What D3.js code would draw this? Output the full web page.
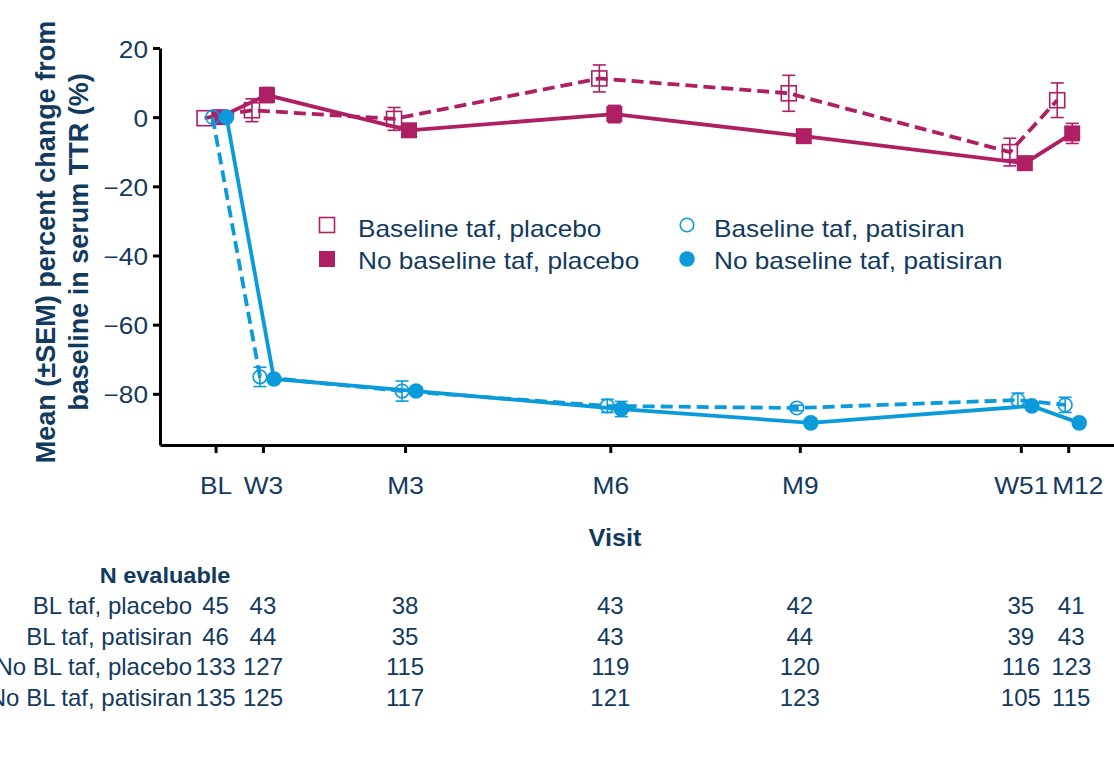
<!DOCTYPE html>
<html>
<head>
<meta charset="utf-8">
<script src="https://cdn.jsdelivr.net/npm/d3@7"></script>
<style>
  html, body { margin: 0; padding: 0; background: #fff; }
  svg { display: block; font-family: "Liberation Sans", Arial, Helvetica, sans-serif; }
</style>
</head>
<body>
<svg id="chart" width="1114" height="783"></svg>
<script>
// Visits and their study week (used for horizontal placement)
const visits = ["BL", "W3", "M3", "M6", "M9", "W51", "M12"];
const visitWeeks = [0, 3, 12, 25, 37, 51, 54];

const seriesNames = [
  "Baseline taf, placebo",
  "No baseline taf, placebo",
  "Baseline taf, patisiran",
  "No baseline taf, patisiran"
];

// Mean percent change from baseline in serum TTR, and SEM
const tafPlaceboMean     = [-0.3, 2.0, -0.5, 11.2, 6.9, -10.1, 4.9];
const tafPlaceboSem      = [0.0, 3.3, 3.3, 3.9, 5.2, 4.0, 5.0];
const noTafPlaceboMean   = [0.0, 6.4, -3.8, 0.9, -5.5, -13.3, -4.7];
const noTafPlaceboSem    = [0.0, 2.2, 1.0, 2.5, 1.2, 1.0, 2.9];
const tafPatisiranMean   = [0.0, -75.1, -79.2, -83.5, -84.1, -81.8, -83.2];
const tafPatisiranSem    = [0.0, 2.8, 2.9, 1.9, 0.8, 2.0, 2.2];
const noTafPatisiranMean = [0.0, -75.7, -79.2, -84.4, -88.4, -83.5, -88.4];
const noTafPatisiranSem  = [0.0, 0.8, 1.0, 2.2, 0.6, 0.6, 0.6];

const yTicks = [20, 0, -20, -40, -60, -80];
const yTickLabels = ["20", "0", "\u221220", "\u221240", "\u221260", "\u221280"];

// Number of evaluable patients per visit
const nRowLabels = ["BL taf, placebo", "BL taf, patisiran", "No BL taf, placebo", "No BL taf, patisiran"];
const nTafPlacebo     = [45, 43, 38, 43, 42, 35, 41];
const nTafPatisiran   = [46, 44, 35, 43, 44, 39, 43];
const nNoTafPlacebo   = [133, 127, 115, 119, 120, 116, 123];
const nNoTafPatisiran = [135, 125, 117, 121, 123, 105, 115];

// ---- styles ----
const MAGENTA = "#ae1f64";
const BLUE = "#0b9bdb";
const INK = "#123a5e";

const svg = d3.select("#chart");

const x = d3.scaleLinear().domain([-3.52, 56.9]).range([160, 1114]);
const y = d3.scaleLinear().domain([-94.8, 20]).range([445, 48]);

// Horizontally widened text helper
function label(g, px, py, str, o = {}) {
  const t = g.append("text")
    .attr("transform", `translate(${px},${py})` + (o.rotate ? ` rotate(${o.rotate})` : "") + ` scale(${o.sx || 1},1)`)
    .attr("text-anchor", o.anchor || "start")
    .attr("font-size", (o.size || 23) + "px")
    .attr("font-weight", o.bold ? "bold" : "normal")
    .attr("fill", INK)
    .text(str);
  return t;
}

// ---- axes ----
const yAxis = d3.axisLeft(y)
  .tickValues(yTicks)
  .tickFormat((d, i) => yTickLabels[i])
  .tickSize(7)
  .tickSizeOuter(0);

const gy = svg.append("g").attr("transform", "translate(160,0)").call(yAxis);
gy.select(".domain").attr("stroke", "#000").attr("stroke-width", 3);
gy.selectAll(".tick line").attr("stroke", "#000").attr("stroke-width", 3);
gy.selectAll(".tick text")
  .attr("x", null).attr("dy", null)
  .attr("transform", "translate(-12,9) scale(1.14,1)")
  .attr("font-size", "23px")
  .attr("font-family", "Liberation Sans, Arial, sans-serif")
  .attr("fill", INK);

const xAxis = d3.axisBottom(x)
  .tickValues(visitWeeks)
  .tickFormat((d, i) => visits[i])
  .tickSize(8)
  .tickSizeOuter(0);

const gx = svg.append("g").attr("transform", "translate(0,445)").call(xAxis);
gx.select(".domain").attr("stroke", "#000").attr("stroke-width", 3);
gx.selectAll(".tick line").attr("stroke", "#000").attr("stroke-width", 3);
// the last two visit labels sit close together; nudge the final one right
const xLabelShift = visits.map((v, i) => (i === visits.length - 1 ? 9 : 0));
gx.selectAll(".tick text")
  .attr("y", null).attr("dy", null)
  .attr("transform", (d, i) => `translate(${xLabelShift[i]},49) scale(1.12,1)`)
  .attr("font-size", "23.5px")
  .attr("font-family", "Liberation Sans, Arial, sans-serif")
  .attr("fill", INK);

// axis titles
label(svg, 615, 546, "Visit", { anchor: "middle", bold: true, size: 23, sx: 1.1 });
label(svg, 55, 242, "Mean (\u00b1SEM) percent change from", { anchor: "middle", bold: true, size: 27, rotate: -90 });
label(svg, 88, 242, "baseline in serum TTR (%)", { anchor: "middle", bold: true, size: 27, rotate: -90 });

// ---- series ----
const series = [
  { name: seriesNames[0], mean: tafPlaceboMean, sem: tafPlaceboSem, color: MAGENTA, dashed: true, shape: "square", filled: false, dodge: -11 },
  { name: seriesNames[1], mean: noTafPlaceboMean, sem: noTafPlaceboSem, color: MAGENTA, dashed: false, shape: "square", filled: true, dodge: 4 },
  { name: seriesNames[2], mean: tafPatisiranMean, sem: tafPatisiranSem, color: BLUE, dashed: true, shape: "circle", filled: false, dodge: -3 },
  { name: seriesNames[3], mean: noTafPatisiranMean, sem: noTafPatisiranSem, color: BLUE, dashed: false, shape: "circle", filled: true, dodge: 11 }
];

function drawMarker(g, s, cx, cy) {
  if (s.shape === "square") {
    const size = s.filled ? 16 : 15;
    g.append("rect")
      .attr("x", cx - size / 2).attr("y", cy - size / 2)
      .attr("width", size).attr("height", size)
      .attr("fill", s.filled ? s.color : "none")
      .attr("stroke", s.filled ? "none" : s.color)
      .attr("stroke-width", 1.6);
  } else {
    g.append("circle")
      .attr("cx", cx).attr("cy", cy)
      .attr("r", s.filled ? 7.8 : 6.8)
      .attr("fill", s.filled ? s.color : "none")
      .attr("stroke", s.filled ? "none" : s.color)
      .attr("stroke-width", 1.6);
  }
}

const plot = svg.append("g");
series.forEach(s => {
  const g = plot.append("g");
  const px = i => x(visitWeeks[i]) + s.dodge;
  const line = d3.line().x((d, i) => px(i)).y(d => y(d));
  g.append("path")
    .datum(s.mean)
    .attr("d", line)
    .attr("fill", "none")
    .attr("stroke", s.color)
    .attr("stroke-width", 3.8)
    .attr("stroke-dasharray", s.dashed ? "12,6" : null);

  // error bars
  s.mean.forEach((m, i) => {
    const e = s.sem[i];
    if (e <= 0) return;
    const cx = px(i), y1 = y(m + e), y2 = y(m - e);
    g.append("line").attr("x1", cx).attr("x2", cx).attr("y1", y1).attr("y2", y2)
      .attr("stroke", s.color).attr("stroke-width", 1.6);
    [y1, y2].forEach(yy => {
      g.append("line").attr("x1", cx - 6.5).attr("x2", cx + 6.5).attr("y1", yy).attr("y2", yy)
        .attr("stroke", s.color).attr("stroke-width", 1.6);
    });
  });

  s.mean.forEach((m, i) => drawMarker(g, s, px(i), y(m)));
});

// ---- legend ----
const legend = svg.append("g");
const legendPos = [
  { mx: 327, my: 225, tx: 358, ty: 237 },
  { mx: 327, my: 259, tx: 358, ty: 269 },
  { mx: 687, my: 225, tx: 714, ty: 237 },
  { mx: 687, my: 259, tx: 714, ty: 269 }
];
series.forEach((s, i) => {
  const p = legendPos[i];
  drawMarker(legend, s, p.mx, p.my);
  label(legend, p.tx, p.ty, s.name, { size: 23, sx: 1.14 });
});

// ---- N evaluable table ----
const table = svg.append("g");
label(table, 165, 583, "N evaluable", { anchor: "middle", bold: true, size: 22, sx: 1.07 });
const nRows = [nTafPlacebo, nTafPatisiran, nNoTafPlacebo, nNoTafPatisiran];
const rowBase = [614, 645, 675, 706];
nRows.forEach((row, r) => {
  label(table, 192, rowBase[r], nRowLabels[r], { anchor: "end", size: 24 });
  row.forEach((n, i) => {
    const shift = i === row.length - 1 ? 3 : 0;
    label(table, x(visitWeeks[i]) + shift, rowBase[r], String(n), { anchor: "middle", size: 24 });
  });
});
</script>
</body>
</html>
